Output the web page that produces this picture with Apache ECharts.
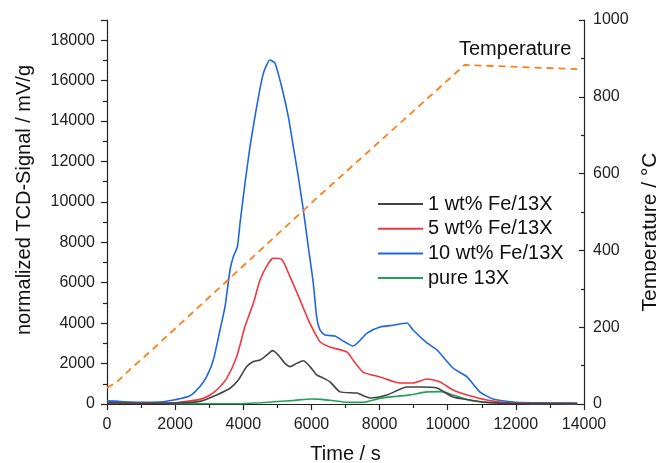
<!DOCTYPE html>
<html>
<head>
<meta charset="utf-8">
<script src="https://cdn.jsdelivr.net/npm/echarts@6/dist/echarts.min.js"></script>
<style>html,body{margin:0;padding:0;background:#fff}#c{width:656px;height:463px}</style>
</head>
<body>
<div id="c"></div>
<script>
// ---- data (time in s, signal in mV/g, temperature in °C) ----
const xTicks = [0, 2000, 4000, 6000, 8000, 10000, 12000, 14000];
const leftTicks = [0, 2000, 4000, 6000, 8000, 10000, 12000, 14000, 16000, 18000];
const rightTicks = [0, 200, 400, 600, 800, 1000];

const seriesNames = ['1 wt% Fe/13X', '5 wt% Fe/13X', '10 wt% Fe/13X', 'pure 13X'];

const fe1 = [[0,60],[1000,40],[2000,50],[2730,130],[3219,450],[3610,780],[3855,1190],[4100,1850],[4295,2100],[4491,2180],[4686,2420],[4862,2640],[5028,2420],[5224,2010],[5371,1850],[5566,2010],[5762,2140],[5958,1850],[6153,1440],[6340,1290],[6545,1100],[6839,600],[7338,540],[7720,300],[8218,450],[8805,840],[9187,840],[9686,790],[10155,350],[10654,200],[11153,80],[12000,30],[13800,20]];

const fe5 = [[0,40],[1000,30],[2000,60],[2241,115],[2730,230],[3000,420],[3219,690],[3512,1270],[3806,2340],[4050,3830],[4295,4980],[4491,6140],[4735,6960],[4882,7210],[5126,7160],[5371,6300],[5665,5150],[5908,4160],[6105,3500],[6252,3080],[6545,2820],[7044,2570],[7220,2180],[7514,1580],[8013,1340],[8600,1040],[8981,1040],[9392,1240],[9774,1090],[10155,690],[10566,450],[11153,200],[11740,60],[12500,30],[13800,20]];

const fe10 = [[0,150],[300,130],[600,100],[1000,90],[1500,100],[1800,150],[2045,230],[2200,280],[2400,380],[2534,530],[2730,860],[2925,1350],[3121,2180],[3317,3660],[3463,4800],[3610,6630],[3708,7290],[3826,7780],[3904,8940],[4050,10920],[4197,12730],[4393,14710],[4589,16360],[4784,17020],[4931,16860],[5126,15700],[5322,14220],[5468,12730],[5615,11250],[5762,9600],[5908,7780],[6055,5970],[6153,4320],[6252,3660],[6400,3410],[6690,3360],[6900,3150],[7220,2870],[7631,3510],[8013,3810],[8394,3900],[8805,4010],[8981,3660],[9392,3020],[9686,2670],[10155,1780],[10566,1340],[10948,590],[11329,250],[11916,100],[12500,60],[13000,50],[13800,40]];

const pure13X = [[0,130],[300,120],[600,80],[1000,50],[1500,40],[2000,20],[3000,10],[4000,20],[4500,60],[5000,120],[5500,180],[6000,250],[6300,230],[6700,150],[7000,90],[7500,80],[8000,280],[8500,380],[8900,450],[9400,600],[9800,610],[10200,420],[10600,200],[11000,100],[11500,50],[12500,30],[13800,20]];

const temperature = [[0,42],[300,58],[700,92],[1262,136],[6252,544],[10500,883],[13800,872]];

const colors = ['#444444', '#f2363c', '#1f66e5', '#23a15a'];
const tempColor = '#ff7f1a';

const FONT = 'Liberation Sans, Arial, sans-serif';
const chart = echarts.init(document.getElementById('c'), null, {renderer: 'canvas'});

const axisLineStyle = {color: '#222', width: 1.2};
const labelStyle = {color: '#222', fontSize: 16, fontFamily: FONT};
const nameStyle = {color: '#111', fontSize: 20, fontFamily: FONT};

const lineSeries = [fe1, fe5, fe10, pure13X].map((d, i) => ({
  name: seriesNames[i], type: 'line', data: d, yAxisIndex: 0,
  showSymbol: false, symbol: 'none', smooth: 0.2,
  lineStyle: {color: colors[i], width: 1.6}, itemStyle: {color: colors[i]},
  z: 3 + (3 - i)
}));

chart.setOption({
  animation: false,
  backgroundColor: '#fff',
  grid: {left: 107, right: 72, top: 20, bottom: 59, containLabel: false, outerBoundsMode: 'none'},
  legend: {
    data: seriesNames, orient: 'vertical', left: 373, top: 189,
    icon: 'rect', itemWidth: 45, itemHeight: 2, itemGap: 4.7,
    textStyle: {color: '#111', fontSize: 20, fontFamily: FONT, lineHeight: 20}
  },
  xAxis: {
    type: 'value', min: 0, max: 14000, interval: 2000,
    name: 'Time / s', nameLocation: 'middle', nameGap: 40, nameTextStyle: nameStyle,
    axisLine: {show: true, onZero: false, lineStyle: axisLineStyle},
    axisTick: {show: true, length: 6, lineStyle: axisLineStyle},
    minorTick: {show: true, splitNumber: 2, length: 4, lineStyle: axisLineStyle},
    axisLabel: Object.assign({margin: 13, formatter: v => xTicks.includes(v) ? String(v) : ''}, labelStyle),
    splitLine: {show: false}
  },
  yAxis: [{
    type: 'value', position: 'left', min: 0, max: 19000, interval: 2000,
    name: 'normalized TCD-Signal / mV/g', nameLocation: 'middle', nameGap: 73,
    nameTextStyle: Object.assign({}, nameStyle, {padding: [0, 0, 0, 24]}),
    axisLine: {show: true, lineStyle: axisLineStyle},
    axisTick: {show: true, length: 6, lineStyle: axisLineStyle},
    minorTick: {show: true, splitNumber: 2, length: 4, lineStyle: axisLineStyle},
    axisLabel: Object.assign({margin: 12, showMaxLabel: false, formatter: v => leftTicks.includes(v) ? String(v) : ''}, labelStyle),
    splitLine: {show: false}
  }, {
    type: 'value', position: 'right', min: 0, max: 1000, interval: 200,
    name: 'Temperature / °C', nameLocation: 'middle', nameGap: 45, nameRotate: 90,
    nameTextStyle: Object.assign({}, nameStyle, {fontSize: 21, padding: [0, 40, 0, 0]}),
    axisLine: {show: true, lineStyle: axisLineStyle},
    axisTick: {show: true, inside: true, length: 5, lineStyle: axisLineStyle},
    minorTick: {show: true, splitNumber: 2, length: 3, lineStyle: axisLineStyle},
    axisLabel: Object.assign({margin: 9, formatter: v => rightTicks.includes(v) ? String(v) : ''}, labelStyle),
    splitLine: {show: false}
  }],
  graphic: [{
    type: 'text', left: 459, top: 39, z: 10,
    style: {text: 'Temperature', fill: '#111', font: '20px ' + FONT}
  }],
  series: lineSeries.concat([{
    name: 'Temperature', type: 'line', data: temperature, yAxisIndex: 1,
    showSymbol: false, symbol: 'none',
    lineStyle: {color: tempColor, width: 1.8, type: [7, 5]}, z: 8
  }])
});
</script>
</body>
</html>
